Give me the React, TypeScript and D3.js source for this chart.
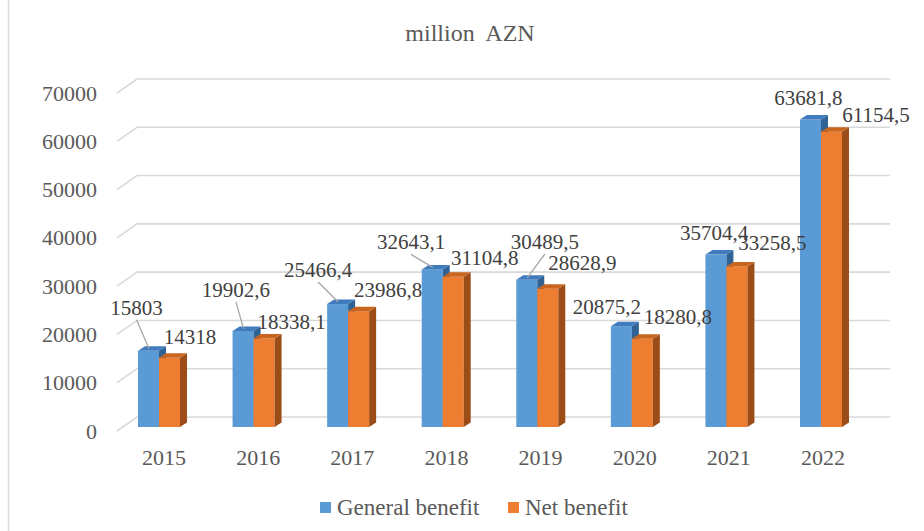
import React from "react";
import * as d3 from "d3";

const years = ["2015", "2016", "2017", "2018", "2019", "2020", "2021", "2022"];
const general = [15803, 19902.6, 25466.4, 32643.1, 30489.5, 20875.2, 35704.4, 63681.8];
const net = [14318, 18338.1, 23986.8, 31104.8, 28628.9, 18280.8, 33258.5, 61154.5];
const yTicks = [0, 10000, 20000, 30000, 40000, 50000, 60000, 70000];
const seriesNames = ["General benefit", "Net benefit"];
const title = "million  AZN";

// label placement offsets (manually moved labels in the original)
const genLabelOff: [number, number][] = [
  [-1.5, -43], [3.4, -41], [-9, -34], [-10.7, -27], [28.7, -38], [-4, -19], [8.6, -21.6], [8.5, -21.5],
];
const netLabelOff: [number, number][] = [
  [31, -21], [38, -16.5], [40, -21], [42, -19], [45, -26], [46, -22], [46, -23], [55, -17],
];
const genLeader = [true, true, true, true, true, false, false, false];

const W = 924;
const H = 531;
const FONT = "'Liberation Serif', 'Times New Roman', serif";
const TEXT = "#595959";

const DX = 20, DY = -14; // full depth of plot
const bdx = 7, bdy = -4.5; // bar depth

const fmt = (v: number) => String(v).replace(".", ",");

export default function App() {
  const yFront = d3.scaleLinear().domain([0, 70000]).range([431, 93]);
  const yBar = d3.scaleLinear().domain([0, 70000]).range([427, 89]);
  const xLabel = d3.scalePoint<string>().domain(years).range([164, 823]);
  const xBar = d3.scaleBand<string>().domain(years).range([119, 119 + 94.57 * 8]);
  const barW = 21;
  const frontLeft = 117;
  const backRight = 890;

  const colors = {
    blue: { front: "#5B9BD5", top: "#3F7BBD", side: "#2F6396" },
    orange: { front: "#ED7D31", top: "#C9651F", side: "#9C4D17" },
  };

  const bar = (x0: number, v: number, c: { front: string; top: string; side: string }, key: string) => {
    const y0 = yBar(0);
    const y1 = yBar(v);
    const x1 = x0 + barW;
    return (
      <g key={key}>
        <rect x={x0} y={y1} width={barW} height={y0 - y1} fill={c.front} />
        <polygon
          points={`${x1},${y1} ${x1 + bdx},${y1 + bdy} ${x1 + bdx},${y0 + bdy} ${x1},${y0}`}
          fill={c.side}
        />
        <polygon
          points={`${x0},${y1} ${x0 + bdx},${y1 + bdy} ${x1 + bdx},${y1 + bdy} ${x1},${y1}`}
          fill={c.top}
        />
      </g>
    );
  };

  return (
    <svg
      width={W}
      height={H}
      style={{ position: "absolute", left: 0, top: 0, background: "#fff" }}
      fontFamily={FONT}
    >
      <rect x={0} y={0} width={W} height={H} fill="#fff" />
      <line x1={8.5} y1={0} x2={8.5} y2={H} stroke="#d9d9d9" strokeWidth={1.5} />
      <text x={470} y={33} textAnchor="middle" dominantBaseline="central" fontSize={24} fill={TEXT} style={{ whiteSpace: "pre" }}>
        {title}
      </text>

      {/* gridlines */}
      {yTicks.map((t) => {
        const yf = yFront(t);
        return (
          <polyline
            key={t}
            points={`${frontLeft},${yf} ${frontLeft + DX},${yf + DY} ${backRight},${yf + DY}`}
            fill="none"
            stroke="#d9d9d9"
            strokeWidth={1.6}
          />
        );
      })}
      {yTicks.map((t) => (
        <text key={"t" + t} x={97} y={yFront(t)} textAnchor="end" dominantBaseline="central" fontSize={22} fill={TEXT}>
          {t}
        </text>
      ))}

      {/* bars */}
      {years.map((yr, i) => {
        const bl = (xBar(yr) as number) + 19;
        return (
          <g key={yr}>
            {bar(bl, general[i], colors.blue, "g")}
            {bar(bl + barW, net[i], colors.orange, "n")}
          </g>
        );
      })}

      {/* category labels */}
      {years.map((yr) => (
        <text key={"c" + yr} x={xLabel(yr)} y={457} textAnchor="middle" dominantBaseline="central" fontSize={22} fill={TEXT}>
          {yr}
        </text>
      ))}

      {/* data labels */}
      {years.map((yr, i) => {
        const bl = (xBar(yr) as number) + 19;
        const gy = yBar(general[i]);
        const ny = yBar(net[i]);
        const gx = bl + genLabelOff[i][0];
        const gly = gy + genLabelOff[i][1];
        const nx = bl + barW + netLabelOff[i][0];
        const nly = ny + netLabelOff[i][1];
        return (
          <g key={"l" + yr}>
            {genLeader[i] && (
              <line x1={gx} y1={gly + 12} x2={bl + 11} y2={gy - 2} stroke="#a6a6a6" strokeWidth={1.3} />
            )}
            <text x={gx} y={gly} textAnchor="middle" dominantBaseline="central" fontSize={21} fill="#404040">
              {fmt(general[i])}
            </text>
            <text x={nx} y={nly} textAnchor="middle" dominantBaseline="central" fontSize={21} fill="#404040">
              {fmt(net[i])}
            </text>
          </g>
        );
      })}

      {/* legend */}
      <rect x={320} y={502} width={11} height={11} fill={colors.blue.front} />
      <text x={337} y={507} dominantBaseline="central" fontSize={23} fill={TEXT}>
        {seriesNames[0]}
      </text>
      <rect x={508} y={502} width={11} height={11} fill={colors.orange.front} />
      <text x={525} y={507} dominantBaseline="central" fontSize={23} fill={TEXT}>
        {seriesNames[1]}
      </text>
    </svg>
  );
}
